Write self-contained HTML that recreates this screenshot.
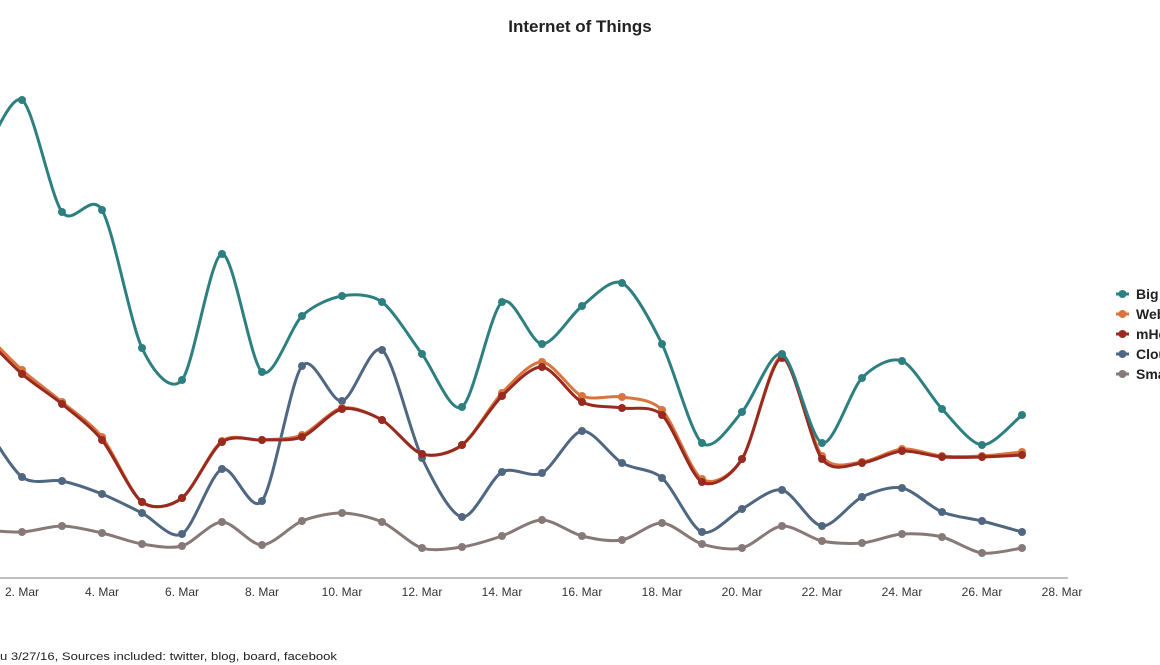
<!DOCTYPE html>
<html><head><meta charset="utf-8"><style>
html,body{margin:0;padding:0;background:#fff;overflow:hidden}
svg{display:block;font-family:"Liberation Sans",sans-serif}
</style></head><body>
<svg id="s" width="1160" height="665" viewBox="0 0 1160 665">
<text x="580" y="32" text-anchor="middle" font-size="17" font-weight="bold" fill="#222">Internet of Things</text>
<line x1="0" y1="578" x2="1068" y2="578" stroke="#aaa" stroke-width="1.5"/>
<g font-size="12" fill="#333" text-anchor="middle" id="ticks"></g>
<g id="series"></g>
<g font-size="14" font-weight="bold" fill="#222" id="legend"></g>
<text x="0" y="660" text-anchor="end" font-size="11" fill="#222">Data thr</text>
<text x="0" y="660" font-size="11" fill="#222" textLength="337" lengthAdjust="spacingAndGlyphs">u 3/27/16, Sources included: twitter, blog, board, facebook</text>
</svg>
<script>
var NS="http://www.w3.org/2000/svg";
function el(t,a,p){var e=document.createElementNS(NS,t);for(var k in a)e.setAttribute(k,a[k]);p.appendChild(e);return e;}
var ticks=document.getElementById('ticks');
for(var d=2;d<=28;d+=2){var x=22+40*(d-2);var t=el('text',{x:x,y:596},ticks);t.textContent=d+'. Mar';}
var S=[
["#2e7f7f","Big",[160,100,212,210,348,380,254,372,316,296,302,354,407,302,344,306,283,344,443,412,354,443,378,361,409,445,415]],
["#d9743f","We",[330,370,402,437,502,498,441,440,435,408,420,454,445,393,362,396,397,410,479,459,356,456,462,449,456,456,452]],
["#992a1f","mH",[334,374,404,440,502,498,442,440,437,409,420,454,445,396,367,402,408,415,482,459,358,459,463,451,457,457,455]],
["#4f6780","Clo",[420,477,481,494,513,534,469,501,366,401,350,458,517,472,473,431,463,478,532,509,490,526,497,488,512,521,532]],
["#877a76","Sm",[530,532,526,533,544,546,522,545,521,513,522,548,547,536,520,536,540,523,544,548,526,541,543,534,537,553,548]]];
var g=document.getElementById('series');
[4,3,1,2,0].forEach(function(i){
 var c=S[i][0],v=S[i][2],p=v.map(function(y,j){return [22+40*(j-1),y];});
 var d="M"+p[0][0]+","+p[0][1];
 for(var j=0;j<p.length-1;j++){
  var p0=p[j-1]||p[j],p1=p[j],p2=p[j+1],p3=p[j+2]||p2,k=7;
  d+=" C"+(p1[0]+(p2[0]-p0[0])/k)+","+(p1[1]+(p2[1]-p0[1])/k)+" "+(p2[0]-(p3[0]-p1[0])/k)+","+(p2[1]-(p3[1]-p1[1])/k)+" "+p2[0]+","+p2[1];
 }
 el('path',{d:d,fill:"none",stroke:c,"stroke-width":3},g);
 p.forEach(function(q){el('circle',{cx:q[0],cy:q[1],r:4,fill:c},g);});
});
var L=document.getElementById('legend');
S.forEach(function(s,i){var y=294+20*i;
 el('line',{x1:1116,y1:y,x2:1129,y2:y,stroke:s[0],"stroke-width":3},L);
 el('circle',{cx:1122.5,cy:y,r:4,fill:s[0]},L);
 var t=el('text',{x:1136,y:y+5},L);t.textContent=s[1]+([" Data","b","ealth","ud","art"][i]);
});
</script>
</body></html>
